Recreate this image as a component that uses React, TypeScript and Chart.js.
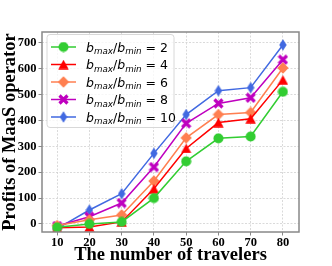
import React, { useEffect, useRef } from 'react';
import { Chart, registerables } from 'chart.js';

Chart.register(...registerables);

const travelers = [10, 20, 30, 40, 50, 60, 70, 80];
const ratio2 = [-13, 0, 8, 100, 242, 331, 338, 511];
const ratio4 = [-15, -12, 8, 136, 292, 392, 407, 557];
const ratio6 = [-6, 16, 35, 166, 333, 423, 431, 603];
const ratio8 = [-8, 28, 81, 220, 389, 466, 488, 635];
const ratio10 = [-18, 54, 117, 273, 423, 515, 527, 692];
const ratioLabels = ['2', '4', '6', '8', '10'];
const yTicks = [0, 100, 200, 300, 400, 500, 600, 700];
const xTicks = [10, 20, 30, 40, 50, 60, 70, 80];

const seriesValues = [ratio2, ratio4, ratio6, ratio8, ratio10];
const seriesColors = ['#32CD32', '#FF0000', '#FF7F50', '#BF00BF', '#4169E1'];
const seriesMarkers = ['circle', 'tri', 'diamond', 'x', 'thin'];

function makeMarker(kind: string, color: string): HTMLCanvasElement {
  const c = document.createElement('canvas');
  let w = 11, h = 11;
  if (kind === 'thin') { w = 8; h = 12; }
  if (kind === 'diamond') { w = 12; h = 12; }
  if (kind === 'tri') { w = 11; h = 10; }
  c.width = w; c.height = h;
  const g = c.getContext('2d') as CanvasRenderingContext2D;
  g.fillStyle = color;
  g.strokeStyle = color;
  g.lineWidth = 1;
  g.beginPath();
  if (kind === 'circle') {
    g.arc(w / 2, h / 2, w / 2 - 0.5, 0, Math.PI * 2);
    g.fill();
  } else if (kind === 'tri') {
    g.moveTo(w / 2, 0.3);
    g.lineTo(w - 0.3, h - 0.3);
    g.lineTo(0.3, h - 0.3);
    g.closePath();
    g.fill();
  } else if (kind === 'diamond' || kind === 'thin') {
    g.moveTo(w / 2, 0.3);
    g.lineTo(w - 0.3, h / 2);
    g.lineTo(w / 2, h - 0.3);
    g.lineTo(0.3, h / 2);
    g.closePath();
    g.fill();
  } else if (kind === 'x') {
    g.lineWidth = 3.2;
    g.lineCap = 'butt';
    g.moveTo(1.5, 1.5); g.lineTo(w - 1.5, h - 1.5);
    g.moveTo(w - 1.5, 1.5); g.lineTo(1.5, h - 1.5);
    g.stroke();
  }
  return c;
}

function drawMath(ctx: CanvasRenderingContext2D, x: number, y: number, value: string) {
  const main = 12.5;
  const sub = main * 0.7;
  const base = y + 4.5;
  let cx = x;
  ctx.fillStyle = '#000';
  ctx.textAlign = 'left';
  ctx.textBaseline = 'alphabetic';
  const part = (t: string, italic: boolean, size: number, dy: number) => {
    ctx.font = `${italic ? 'italic ' : ''}${size}px "DejaVu Sans"`;
    ctx.fillText(t, cx, base + dy);
    cx += ctx.measureText(t).width;
  };
  part('b', true, main, 0);
  part('max', true, sub, 2.5);
  part('/', false, main, 0);
  part('b', true, main, 0);
  part('min', true, sub, 2.5);
  part(' = ' + value, false, main, 0);
}

export default function App() {
  const ref = useRef<HTMLCanvasElement | null>(null);

  useEffect(() => {
    document.body.style.margin = '0';
    const canvas = ref.current;
    if (!canvas) return;
    const markers = seriesMarkers.map((k, i) => makeMarker(k, seriesColors[i]));

    const framePlugin = {
      id: 'frameAndLegend',
      afterDatasetsDraw(chart: any) {
        const ctx: CanvasRenderingContext2D = chart.ctx;
        const { left, top, right, bottom } = chart.chartArea;
        ctx.save();
        ctx.strokeStyle = '#888888';
        ctx.lineWidth = 1.5;
        ctx.strokeRect(left, top, right - left, bottom - top);

        const bx = left + 5, by = top + 2.5, bw = 127, bh = 93;
        ctx.beginPath();
        ctx.roundRect(bx, by, bw, bh, 3);
        ctx.fillStyle = 'rgba(255,255,255,0.8)';
        ctx.fill();
        ctx.strokeStyle = '#d8d8d8';
        ctx.lineWidth = 1;
        ctx.stroke();

        ratioLabels.forEach((lab, i) => {
          const cy = by + 12.5 + i * 17.5;
          ctx.beginPath();
          ctx.strokeStyle = seriesColors[i];
          ctx.lineWidth = 1.5;
          ctx.moveTo(bx + 4, cy);
          ctx.lineTo(bx + 29, cy);
          ctx.stroke();
          const m = markers[i];
          ctx.drawImage(m, bx + 16.5 - m.width / 2, cy - m.height / 2);
          drawMath(ctx, bx + 39, cy, lab);
        });
        ctx.restore();
      },
    };

    const chart = new Chart(canvas, {
      type: 'line',
      data: {
        datasets: seriesValues.map((vals, i) => ({
          label: 'b_max/b_min = ' + ratioLabels[i],
          data: travelers.map((t, j) => ({ x: t, y: vals[j] })),
          borderColor: seriesColors[i],
          backgroundColor: seriesColors[i],
          borderWidth: 1.5,
          pointStyle: markers[i] as any,
          pointRadius: 5,
          pointHoverRadius: 5,
          tension: 0,
          fill: false,
        })),
      },
      options: {
        animation: false,
        responsive: false,
        events: [],
        layout: { padding: { left: 0, top: 32, right: 33, bottom: 0 } },
        plugins: {
          legend: { display: false },
          tooltip: { enabled: false },
        },
        scales: {
          x: {
            type: 'linear',
            min: 5.3,
            max: 85,
            afterBuildTicks: (s: any) => { s.ticks = xTicks.map((v) => ({ value: v })); },
            afterFit: (s: any) => { s.height = 34; },
            grid: {
              color: '#d0d0d0',
              lineWidth: 0.8,
              drawTicks: true,
              tickLength: 3.5,
              tickColor: '#888888',
              tickWidth: 1,
            },
            border: { display: false, dash: [2, 1.5] },
            ticks: {
              padding: 0,
              color: '#000',
              font: { family: '"Liberation Serif"', weight: 'bold', size: 12.5 },
              maxRotation: 0,
            },
            title: {
              display: true,
              text: 'The number of travelers',
              color: '#000',
              font: { family: '"Liberation Serif"', weight: 'bold', size: 18.5 },
              padding: { top: 0, bottom: 0 },
            },
          },
          y: {
            type: 'linear',
            min: -31,
            max: 742,
            afterBuildTicks: (s: any) => { s.ticks = yTicks.map((v) => ({ value: v })); },
            afterFit: (s: any) => { s.width = 42; },
            grid: {
              color: '#d0d0d0',
              lineWidth: 0.8,
              drawTicks: true,
              tickLength: 3.5,
              tickColor: '#888888',
              tickWidth: 1,
            },
            border: { display: false, dash: [2, 1.5] },
            ticks: {
              padding: 2,
              color: '#000',
              font: { family: '"Liberation Serif"', weight: 'bold', size: 12.5 },
            },
            title: {
              display: true,
              text: 'Profits of MaaS operator',
              color: '#000',
              font: { family: '"Liberation Serif"', weight: 'bold', size: 18.5 },
              padding: { top: -1, bottom: 0 },
            },
          },
        },
      },
      plugins: [framePlugin],
    });
    return () => chart.destroy();
  }, []);

  return (
    <div style={{ position: 'absolute', left: 0, top: 0, width: 332, height: 266 }}>
      <canvas ref={ref} width={332} height={266} style={{ display: 'block' }} />
    </div>
  );
}
